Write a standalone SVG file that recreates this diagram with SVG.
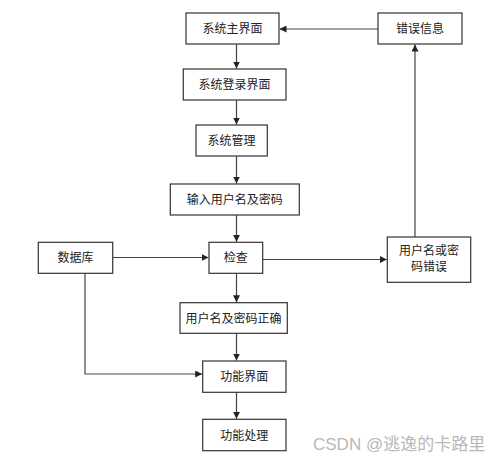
<svg xmlns="http://www.w3.org/2000/svg" width="500" height="461" viewBox="0 0 500 461">
<defs>
<marker id="ah" viewBox="0 0 10 10" refX="10" refY="5" markerWidth="7" markerHeight="7" markerUnits="userSpaceOnUse" orient="auto">
<path d="M0,0 L10,5 L0,10 z" fill="#222"/>
</marker>
<style>
.box{fill:#fff;stroke:#333;stroke-width:1.2}
.t{font-family:"Noto Sans CJK SC","Liberation Sans",sans-serif;font-size:12px;fill:#222;text-anchor:middle}
.c{fill:none;stroke:#444;stroke-width:1.2;marker-end:url(#ah)}
.w{font-family:"Liberation Sans","Noto Sans CJK SC",sans-serif;font-size:17px;fill:#b8b8b8}
</style>
</defs>
<rect width="500" height="461" fill="#fff"/>
<g id="connectors">
<path class="c" d="M236.5,44 V68.5"/>
<path class="c" d="M236.5,100 V124.5"/>
<path class="c" d="M236.5,156 V183.5"/>
<path class="c" d="M236.5,215 V241.8"/>
<path class="c" d="M236.5,273.3 V302.2"/>
<path class="c" d="M236.5,333.3 V360.5"/>
<path class="c" d="M236.5,392.3 V418.8"/>
<path class="c" d="M112.7,257.5 H208.5"/>
<path class="c" d="M262.7,259.5 H386.8"/>
<path class="c" d="M415,237 V44.5"/>
<path class="c" d="M378,29 H279.5"/>
<path class="c" d="M85,273.3 V374 H202.2"/>
</g>
<g id="n1"><rect class="box" x="186" y="13" width="93" height="31"/><text class="t" x="232.5" y="33">系统主界面</text></g>
<g id="n2"><rect class="box" x="378" y="13" width="84" height="31"/><text class="t" x="420" y="33">错误信息</text></g>
<g id="n3"><rect class="box" x="183.3" y="69" width="102.7" height="31"/><text class="t" x="234.6" y="89">系统登录界面</text></g>
<g id="n4"><rect class="box" x="196" y="125" width="71.3" height="31"/><text class="t" x="231.6" y="145">系统管理</text></g>
<g id="n5"><rect class="box" x="170.3" y="184" width="129" height="31"/><text class="t" x="234.8" y="204">输入用户名及密码</text></g>
<g id="n6"><rect class="box" x="38.3" y="242.3" width="74.4" height="31"/><text class="t" x="75.5" y="262">数据库</text></g>
<g id="n7"><rect class="box" x="209" y="242.3" width="53.7" height="31"/><text class="t" x="235.8" y="262">检查</text></g>
<g id="n8"><rect class="box" x="387.3" y="237" width="83.4" height="45.3"/><text class="t" x="429" y="255">用户名或密</text><text class="t" x="429" y="271">码错误</text></g>
<g id="n9"><rect class="box" x="180" y="302.7" width="107.3" height="30.6"/><text class="t" x="233.6" y="322.5">用户名及密码正确</text></g>
<g id="n10"><rect class="box" x="202.7" y="361" width="83.3" height="31.3"/><text class="t" x="244.3" y="381">功能界面</text></g>
<g id="n11"><rect class="box" x="202.7" y="419.3" width="83.3" height="31.4"/><text class="t" x="244.3" y="439.5">功能处理</text></g>
<text class="w" x="313" y="450">CSDN @逃逸的卡路里</text>
</svg>
